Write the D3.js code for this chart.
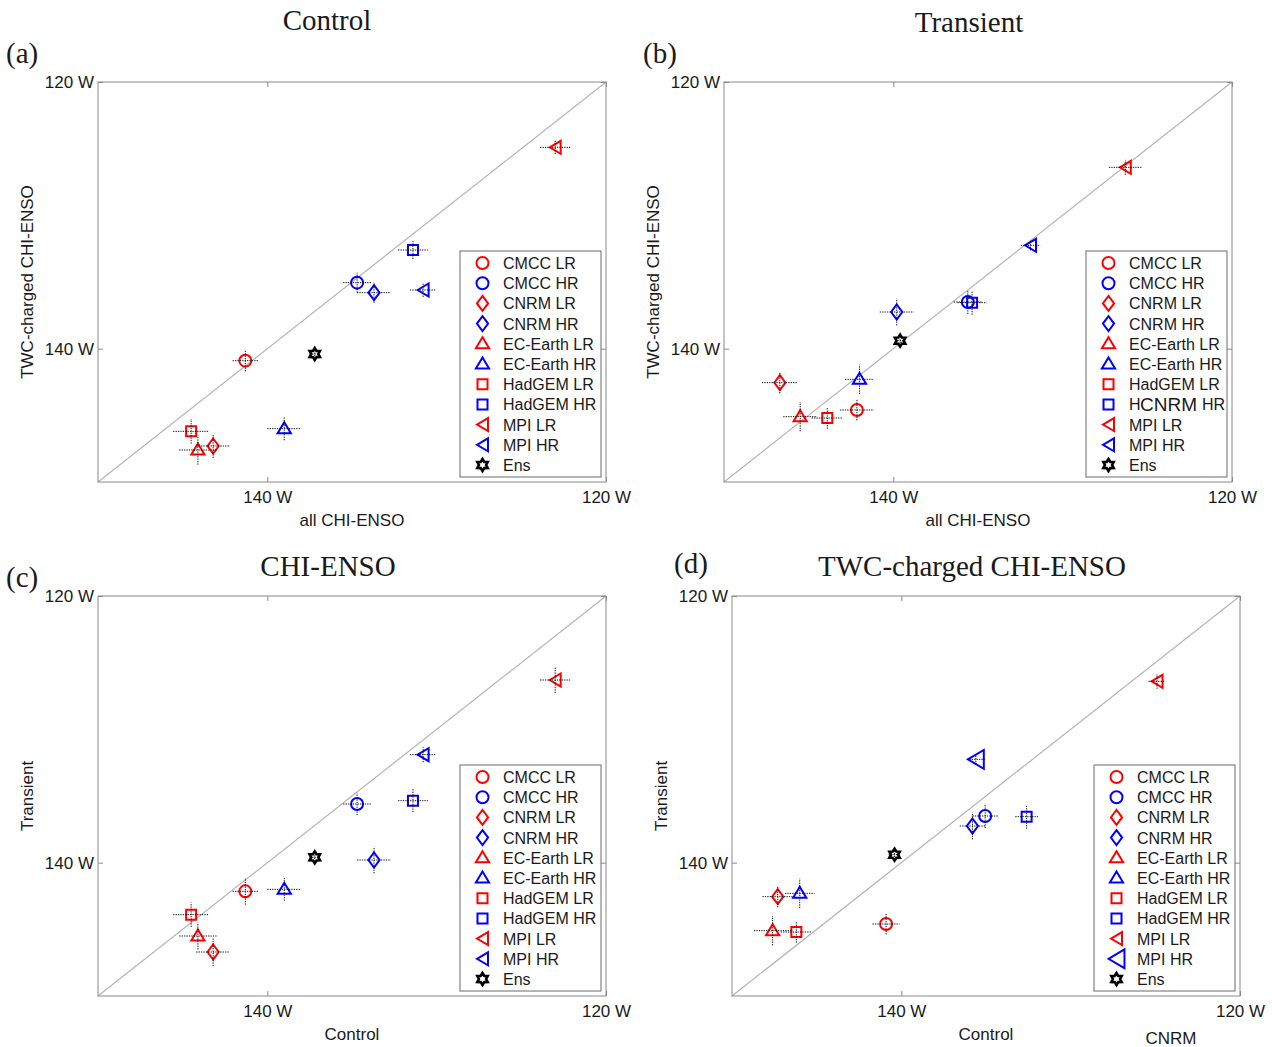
<!DOCTYPE html>
<html>
<head>
<meta charset="utf-8">
<script src="https://cdn.jsdelivr.net/npm/d3@7"></script>
<style>
  body { margin: 0; background: #fff; }
  svg text { font-family: "Liberation Sans", Arial, sans-serif; fill: #1a1a1a; }
  .serif { font-family: "Liberation Serif", "Times New Roman", serif !important; }
</style>
</head>
<body>
<svg id="chart" width="1272" height="1047"></svg>
<script>
// Model names (legend order)
var models = ["CMCC LR", "CMCC HR", "CNRM LR", "CNRM HR", "EC-Earth LR", "EC-Earth HR",
              "HadGEM LR", "HadGEM HR", "MPI LR", "MPI HR", "Ens"];

// Longitudes (deg, negative = W)
var allCtrl   = [-141.3, -134.7, -143.2, -133.7, -144.1, -139.0, -144.5, -131.4, -123.0, -130.8, -137.2];
var twcCtrl   = [-140.9, -135.05, -147.3, -135.8, -147.6, -146.0, -146.2, -132.6, -124.9, -135.6, -140.4];
var allTrans  = [-142.15, -135.6, -146.7, -139.8, -145.5, -142.0, -143.9, -135.35, -126.3, -131.9, -139.6];
var twcTrans  = [-144.6, -136.5, -142.55, -137.25, -145.1, -142.3, -145.2, -136.55, -126.4, -132.25, -139.4];

// half-width of the uncertainty bars (deg)
var allCtrlErr  = [0.75, 0.82, 1.0, 1.0, 1.1, 1.0, 1.06, 0.88, 0.89, 0.78, 0.3];
var twcCtrlErr  = [0.8, 0.75, 0.9, 0.75, 1.1, 0.87, 0.92, 0.67, 0.5, 0.52, 0.35];
var allTransErr = [1.0, 0.83, 1.06, 1.0, 1.0, 0.85, 0.92, 0.86, 0.97, 0.57, 0.3];
var twcTransErr = [0.78, 0.9, 0.8, 1.0, 1.1, 1.1, 0.8, 0.9, 0.56, 0.37, 0.35];

var axisDomain = [-150, -120];
var tickValues = [-140, -120];
var tickLabels = ["140 W", "120 W"];

// marker styles
var markerShape = ["circle", "circle", "diamond", "diamond", "triangle", "triangle",
                   "square", "square", "left", "left", "hexagram"];
var markerColor = ["#ff0000", "#0000ff", "#ff0000", "#0000ff", "#ff0000", "#0000ff",
                   "#ff0000", "#0000ff", "#ff0000", "#0000ff", "#000000"];

// panel layout
var panels = [
  { letter: "(a)", title: "Control", x: allCtrl, y: twcCtrl, ex: allCtrlErr, ey: twcCtrlErr,
    xlab: "all CHI-ENSO", ylab: "TWC-charged CHI-ENSO",
    box: [98, 82, 606, 482], legend: [460, 251], titleX: 327, titleY: 30, letterX: 6, letterY: 63 },
  { letter: "(b)", title: "Transient", x: allTrans, y: twcTrans, ex: allTransErr, ey: twcTransErr,
    xlab: "all CHI-ENSO", ylab: "TWC-charged CHI-ENSO",
    box: [724, 82, 1232, 482], legend: [1086, 251], titleX: 969, titleY: 32, letterX: 643, letterY: 63 },
  { letter: "(c)", title: "CHI-ENSO", x: allCtrl, y: allTrans, ex: allCtrlErr, ey: allTransErr,
    xlab: "Control", ylab: "Transient",
    box: [98, 596, 606, 996], legend: [460, 765], titleX: 328, titleY: 576, letterX: 6, letterY: 587 },
  { letter: "(d)", title: "TWC-charged CHI-ENSO", x: twcCtrl, y: twcTrans, ex: twcCtrlErr, ey: twcTransErr,
    xlab: "Control", ylab: "Transient", bigMPIHR: true,
    box: [732, 596, 1240, 996], legend: [1094, 765], titleX: 972, titleY: 576, letterX: 674, letterY: 573 }
];

// build a marker path centred on 0,0
function symbolPath(shape, big) {
  var s = big ? 1.45 : 1;
  if (shape === "circle") {
    return d3.path ? circlePath(6) : "";
  }
  if (shape === "diamond") {
    var w = 5.6, h = 7.5;
    return "M0," + (-h) + "L" + w + ",0L0," + h + "L" + (-w) + ",0Z";
  }
  if (shape === "triangle") {
    return "M0,-6.5L6.6,4.5L-6.6,4.5Z";
  }
  if (shape === "square") {
    return "M-5,-5L5,-5L5,5L-5,5Z";
  }
  if (shape === "left") {
    var w2 = 5.5 * s, h2 = 6.5 * s;
    return "M" + (-w2) + ",0L" + w2 + "," + (-h2) + "L" + w2 + "," + h2 + "Z";
  }
  if (shape === "hexagram") {
    var pts = [];
    for (var i = 0; i < 12; i++) {
      var r = (i % 2 === 0) ? 6 : 3.6;
      var a = Math.PI / 2 + i * Math.PI / 6;
      pts.push([r * Math.cos(a), -r * Math.sin(a)]);
    }
    return "M" + pts.map(function (p) { return p[0].toFixed(2) + "," + p[1].toFixed(2); }).join("L") + "Z";
  }
  return "";
}
function circlePath(r) {
  var p = d3.path();
  p.arc(0, 0, r, 0, 2 * Math.PI);
  p.closePath();
  return p.toString();
}

var svg = d3.select("#chart");
var fmt = function (v) { return tickLabels[tickValues.indexOf(v)]; };

panels.forEach(function (P) {
  var x0 = P.box[0], y0 = P.box[1], x1 = P.box[2], y1 = P.box[3];
  var xs = d3.scaleLinear().domain(axisDomain).range([x0, x1]);
  var ys = d3.scaleLinear().domain(axisDomain).range([y1, y0]);
  var g = svg.append("g");

  // diagonal 1:1 line
  g.append("line")
    .attr("x1", xs(axisDomain[0])).attr("y1", ys(axisDomain[0]))
    .attr("x2", xs(axisDomain[1])).attr("y2", ys(axisDomain[1]))
    .attr("stroke", "#b4b4b4").attr("stroke-width", 1.2);

  // axes (ticks point inward)
  var bottom = g.append("g").attr("transform", "translate(0," + y1 + ")")
    .call(d3.axisBottom(xs).tickValues(tickValues).tickFormat(fmt).tickSizeInner(-5).tickSizeOuter(0).tickPadding(9));
  var left = g.append("g").attr("transform", "translate(" + x0 + ",0)")
    .call(d3.axisLeft(ys).tickValues(tickValues).tickFormat(fmt).tickSizeInner(-5).tickSizeOuter(0).tickPadding(4));
  var top = g.append("g").attr("transform", "translate(0," + y0 + ")")
    .call(d3.axisTop(xs).tickValues(tickValues).tickFormat("").tickSizeInner(-5).tickSizeOuter(0));
  var right = g.append("g").attr("transform", "translate(" + x1 + ",0)")
    .call(d3.axisRight(ys).tickValues(tickValues).tickFormat("").tickSizeInner(-5).tickSizeOuter(0));
  [bottom, left, top, right].forEach(function (a) {
    a.select(".domain").remove();
    a.selectAll(".tick line").attr("stroke", "#8a8a8a");
    a.selectAll(".tick text").style("font-size", "17px").attr("fill", "#1a1a1a");
  });

  // frame
  g.append("rect")
    .attr("x", x0).attr("y", y0).attr("width", x1 - x0).attr("height", y1 - y0)
    .attr("fill", "none").attr("stroke", "#8a8a8a").attr("stroke-width", 1);

  var idx = d3.range(models.length);

  // markers
  g.selectAll("path.mk")
    .data(idx)
    .enter()
    .append("path")
    .attr("class", "mk")
    .attr("transform", function (i) { return "translate(" + xs(P.x[i]) + "," + ys(P.y[i]) + ")"; })
    .attr("d", function (i) { return symbolPath(markerShape[i], P.bigMPIHR && models[i] === "MPI HR"); })
    .attr("fill", "none")
    .attr("stroke", function (i) { return markerColor[i]; })
    .attr("stroke-width", function (i) { return markerShape[i] === "hexagram" ? 2.6 : 2; })
    .attr("stroke-linejoin", "miter");

  // dotted uncertainty bars on top
  g.selectAll("line.ex")
    .data(idx)
    .enter()
    .append("line")
    .attr("class", "ex")
    .attr("x1", function (i) { return xs(P.x[i] - P.ex[i]); })
    .attr("x2", function (i) { return xs(P.x[i] + P.ex[i]); })
    .attr("y1", function (i) { return ys(P.y[i]); })
    .attr("y2", function (i) { return ys(P.y[i]); })
    .attr("stroke", "#111").attr("stroke-width", 1).attr("stroke-dasharray", "1.3,1.1");
  g.selectAll("line.ey")
    .data(idx)
    .enter()
    .append("line")
    .attr("class", "ey")
    .attr("x1", function (i) { return xs(P.x[i]); })
    .attr("x2", function (i) { return xs(P.x[i]); })
    .attr("y1", function (i) { return ys(P.y[i] - P.ey[i]); })
    .attr("y2", function (i) { return ys(P.y[i] + P.ey[i]); })
    .attr("stroke", "#111").attr("stroke-width", 1).attr("stroke-dasharray", "1.3,1.1");

  // axis labels
  g.append("text")
    .attr("x", (x0 + x1) / 2).attr("y", y1 + 44)
    .attr("text-anchor", "middle").style("font-size", "17px")
    .text(P.xlab);
  g.append("text")
    .attr("transform", "translate(" + (x0 - 65) + "," + ((y0 + y1) / 2) + ") rotate(-90)")
    .attr("text-anchor", "middle").style("font-size", "17px")
    .text(P.ylab);

  // title and panel letter
  g.append("text").attr("class", "serif")
    .attr("x", P.titleX).attr("y", P.titleY)
    .attr("text-anchor", "middle").style("font-size", "29px")
    .text(P.title);
  g.append("text").attr("class", "serif")
    .attr("x", P.letterX).attr("y", P.letterY)
    .style("font-size", "29px")
    .text(P.letter);

  // legend
  var lx = P.legend[0], ly = P.legend[1], rowH = 20.2;
  var lg = g.append("g").attr("transform", "translate(" + lx + "," + ly + ")");
  lg.append("rect")
    .attr("x", 0).attr("y", 0).attr("width", 141).attr("height", 226)
    .attr("fill", "#fff").attr("stroke", "#6a6a6a").attr("stroke-width", 1);
  var rows = lg.selectAll("g.row")
    .data(idx)
    .enter()
    .append("g")
    .attr("class", "row")
    .attr("transform", function (i) { return "translate(0," + (12 + i * rowH) + ")"; });
  rows.append("path")
    .attr("transform", "translate(22.5,0)")
    .attr("d", function (i) { return symbolPath(markerShape[i], P.bigMPIHR && models[i] === "MPI HR"); })
    .attr("fill", "none")
    .attr("stroke", function (i) { return markerColor[i]; })
    .attr("stroke-width", function (i) { return markerShape[i] === "hexagram" ? 2.6 : 2; });
  rows.each(function (i) {
    var row = d3.select(this);
    if (P.letter === "(b)" && models[i] === "HadGEM HR") {
      // overwritten legend entry in the original figure
      row.append("text").attr("x", 43).attr("y", 6).style("font-size", "16px").text("H");
      row.append("text").attr("x", 54).attr("y", 6.5).style("font-size", "19px").text("CNRM");
      row.append("text").attr("x", 116).attr("y", 6).style("font-size", "16px").text("HR");
    } else {
      row.append("text").attr("x", 43).attr("y", 6).style("font-size", "16px").text(models[i]);
    }
  });

  if (P.letter === "(d)") {
    g.append("text")
      .attr("x", 1171).attr("y", y1 + 48)
      .attr("text-anchor", "middle").style("font-size", "17px")
      .text("CNRM");
  }
});
</script>
</body>
</html>
